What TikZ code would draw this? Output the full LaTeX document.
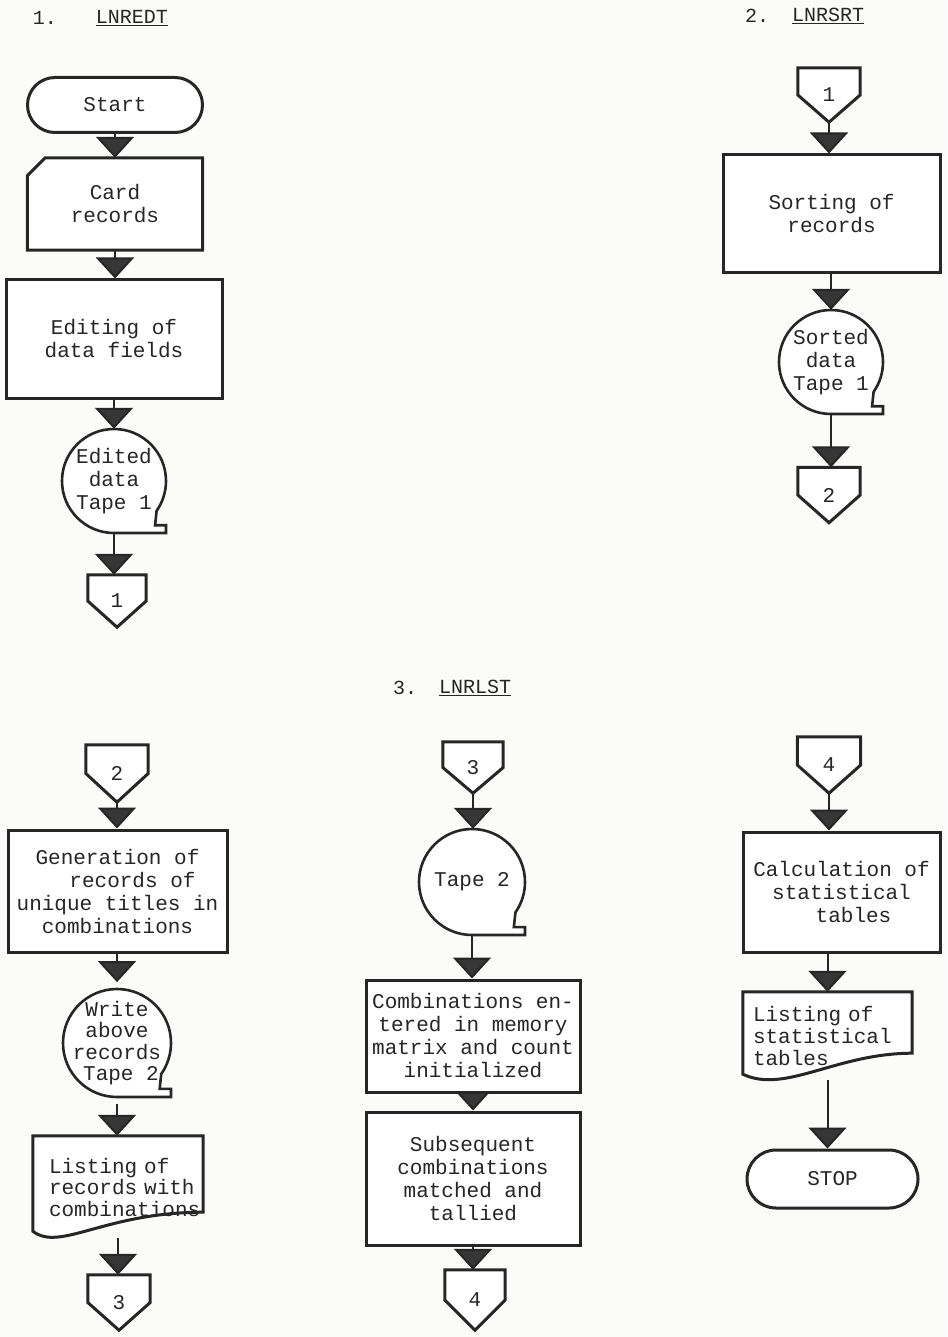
\documentclass[tikz,border=0pt]{standalone}
\usepackage{fontspec}
\newfontfamily\tw{Liberation Mono}
\usetikzlibrary{arrows.meta,shapes.misc,calc}
\definecolor{ink}{HTML}{262626}
\definecolor{tipc}{HTML}{363636}
\definecolor{paper}{HTML}{FBFBF9}
\pgfdeclarelayer{bg}
\pgfdeclarelayer{conn}
\pgfdeclarelayer{shp}
\pgfsetlayers{bg,conn,shp,main}
\tikzset{
  base/.style={font=\tw\fontsize{21}{23}\selectfont, text=ink, inner sep=0pt, align=center},
  proc/.style={base, draw=ink, line width=3pt, fill=white, rectangle},
  term/.style={base, draw=ink, line width=3pt, fill=white, rounded rectangle},
  ghost/.style={base, draw=none},
  tapenode/.style={base, draw=none, circle, minimum size=#1},
  shapeline/.style={draw=ink, line width=3pt, fill=white, line join=miter},
  tapeline/.style={draw=ink, line width=2.6pt, fill=white, line join=miter},
  flow/.style={draw=ink, line width=2pt, -{Triangle[width=38pt,length=21pt,fill=tipc]}},
  title/.style={font=\tw\fontsize{20}{22}\selectfont, text=ink, inner sep=0pt},
}
\newcommand{\tapeoutline}[2]{%
  \draw[tapeline] ($(#1.center)+(0,-#2)$) arc[start angle=270, end angle=-35, radius=#2pt]
    -- ($(#1.center)+(0.79*#2,-0.85*#2)$) -- ($(#1.center)+(#2,-0.85*#2)$)
    -- ($(#1.center)+(#2,-#2)$) -- cycle;}
\newcommand{\offpage}[1]{%
  \draw[shapeline] (#1.north west) -- (#1.north east)
    -- ($(#1.north east)!0.5!(#1.south east)$) -- (#1.south)
    -- ($(#1.north west)!0.5!(#1.south west)$) -- cycle;}
% #1 node, #2 left lift, #3 right lift, #4 first control fraction, #5 second control fraction
\newcommand{\docoutline}[5]{%
  \draw[shapeline] ($(#1.south west)+(0,#2)$) -- (#1.north west) -- (#1.north east)
    -- ($(#1.south east)+(0,#3)$)
    .. controls ($(#1.south west)!#4!(#1.south east)+(0,#3)$) and ($(#1.south west)!#5!(#1.south east)+(0,-14)$)
    .. ($(#1.south west)+(0,#2)$) -- cycle;}
\newcommand{\cardoutline}[1]{%
  \draw[shapeline] ($(#1.north west)+(18,0)$) -- (#1.north east) -- (#1.south east)
    -- (#1.south west) -- ($(#1.north west)+(0,-18)$) -- cycle;}
\begin{document}
\begin{tikzpicture}[x=1pt,y=1pt]
\begin{pgfonlayer}{bg}
\fill[paper] (0,0) rectangle (947,-1337);
\end{pgfonlayer}
\useasboundingbox (0,0) rectangle (947,-1337);

% titles
\node[title] (t1n) at (45,-18) {1.};
\node[title] (t1) at (132,-18) {\underline{LNREDT}};
\node[title] (t2n) at (757,-16) {2.};
\node[title] (t2) at (828,-16) {\underline{LNRSRT}};
\node[title] (t3n) at (405,-688) {3.};
\node[title] (t3) at (475,-688) {\underline{LNRLST}};

% column 1
\node[term, minimum width=175pt, minimum height=55pt] (start) at (115,-105) {Start};
\node[ghost, minimum width=175pt, minimum height=92pt] (card) at (115,-204) {Card\\records};
\node[proc, minimum width=216pt, minimum height=118pt] (edit) at (114,-339) {Editing of\\data fields};
\node[tapenode=104pt] (tapeA) at (114,-481) {Edited\\data\\Tape 1};
\node[ghost, minimum width=58pt, minimum height=52pt] (offA) at (117,-601) {1};

% column 2
\node[ghost, minimum width=62pt, minimum height=54pt] (offB) at (829,-95) {1};
\node[proc, minimum width=217pt, minimum height=118pt] (sort) at (831.5,-214) {Sorting of\\records};
\node[tapenode=104pt] (tapeB) at (831,-362) {Sorted\\data\\Tape 1};
\node[ghost, minimum width=62pt, minimum height=55pt] (offC) at (829,-495) {2};

% column 3
\node[ghost, minimum width=62pt, minimum height=57pt] (offD) at (117,-773.5) {2};
\node[proc, minimum width=219pt, minimum height=122pt] (gen) at (117.5,-891) {Generation of\\\hspace*{30pt}records of\\unique titles in\\combinations};
\node[tapenode=108pt, font=\tw\fontsize{21}{21.5}\selectfont] (tapeC) at (117,-1043) {Write\\above\\records\\\hspace*{8pt}Tape 2};
\node[ghost, minimum width=170pt, minimum height=102pt, text width=166pt, align=left, font=\tw\fontsize{21}{21.5}\selectfont] (docA) at (118,-1187) {\hspace*{14pt}Listing of\\\hspace*{14pt}records with\\\hspace*{14pt}combinations\\[4pt]};
\node[ghost, minimum width=62pt, minimum height=55pt] (offE) at (119,-1302.5) {3};

% column 4
\node[ghost, minimum width=60pt, minimum height=51pt] (offF) at (473,-767.5) {3};
\node[tapenode=106pt] (tapeD) at (472,-882) {Tape 2};
\node[proc, minimum width=214pt, minimum height=112pt] (comb) at (473,-1036) {Combinations en-\\tered in memory\\matrix and count\\initialized};
\node[proc, minimum width=214pt, minimum height=133pt] (subs) at (473,-1178.5) {Subsequent\\combinations\\matched and\\tallied};
\node[ghost, minimum width=60pt, minimum height=60pt] (offG) at (475,-1300) {4};

% column 5
\node[ghost, minimum width=63pt, minimum height=56pt] (offH) at (829,-765) {4};
\node[proc, minimum width=197pt, minimum height=120pt] (calc) at (841.5,-892) {Calculation of\\statistical\\\hspace*{24pt}tables};
\node[ghost, minimum width=169pt, minimum height=88pt, text width=149pt, align=left, font=\tw\fontsize{21}{22}\selectfont] (docB) at (827.5,-1036) {Listing of\\statistical\\tables\\[2pt]};
\node[term, minimum width=171pt, minimum height=58pt] (stop) at (832.5,-1179) {STOP};

% outlines
\begin{pgfonlayer}{shp}
\cardoutline{card}
\tapeoutline{tapeA}{52}
\tapeoutline{tapeB}{52}
\tapeoutline{tapeC}{54}
\tapeoutline{tapeD}{53}
\offpage{offA}\offpage{offB}\offpage{offC}\offpage{offD}
\offpage{offE}\offpage{offF}\offpage{offG}\offpage{offH}
\docoutline{docA}{7}{26}{0.42}{0.16}
\docoutline{docB}{6}{27}{0.55}{0.25}
\end{pgfonlayer}

% connectors
\begin{pgfonlayer}{conn}
\draw[flow] (start.south) -- (start.south |- card.north);
\draw[flow] (card.south) -- (card.south |- edit.north);
\draw[flow] (edit.south) -- (edit.south |- tapeA.north);
\draw[flow] (tapeA.south) -- (tapeA.south |- offA.north);
\draw[flow] (offB.south) -- (offB.south |- sort.north);
\draw[flow] (sort.south -| tapeB.north) -- (tapeB.north);
\draw[flow] (tapeB.south) -- (tapeB.south |- offC.north);
\draw[flow] (offD.south) -- (offD.south |- gen.north);
\draw[flow] (gen.south -| tapeC.north) -- (tapeC.north);
\draw[flow] (tapeC.south) -- (tapeC.south |- docA.north);
\draw[flow] (docA.south) -- (docA.south |- offE.north);
\draw[flow] (offF.south) -- (offF.south |- tapeD.north);
\draw[flow] (tapeD.south) -- (tapeD.south |- comb.north);
\draw[flow] (comb.south) -- (comb.south |- subs.north);
\draw[flow] (subs.south) -- (subs.south |- offG.north);
\draw[flow] (offH.south) -- (offH.south |- calc.north);
\draw[flow] (calc.south -| docB.north) -- (docB.north);
\draw[flow] (docB.south) -- (docB.south |- stop.north);
\end{pgfonlayer}
\end{tikzpicture}
\end{document}
